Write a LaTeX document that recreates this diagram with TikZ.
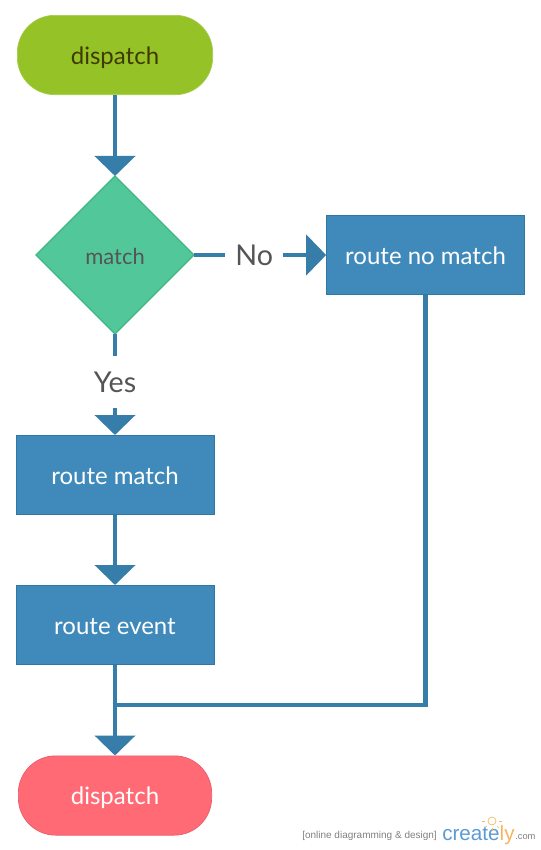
\documentclass[tikz,border=0pt]{standalone}
\usepackage{fontspec}
\setmainfont{Lato}
\newfontfamily\logofont{Liberation Sans}
\usetikzlibrary{arrows.meta,shapes.geometric}
\definecolor{linecol}{HTML}{367EA9}
\definecolor{boxcol}{HTML}{3F8ABB}
\definecolor{boxedge}{HTML}{2F78A6}
\definecolor{startcol}{HTML}{95C227}
\definecolor{startedge}{HTML}{A5CC4A}
\definecolor{starttext}{HTML}{3F3A00}
\definecolor{matchcol}{HTML}{52C89A}
\definecolor{matchedge}{HTML}{3FB585}
\definecolor{endcol}{HTML}{FF6A75}
\definecolor{endedge}{HTML}{E95B68}
\definecolor{labelcol}{HTML}{555555}
\definecolor{logoblue}{HTML}{5B9BD5}
\definecolor{logoorange}{HTML}{F5B55F}
\tikzset{
    flowline/.style={line width=3.4pt, draw=linecol},
    flowarrow/.style={flowline, -{Triangle[width=30pt, length=15pt]}},
    routebox/.style={rectangle, draw=boxedge, fill=boxcol, text=white, line width=0.5pt, minimum width=148.5pt, minimum height=59.5pt, inner sep=0pt, text height=17.5pt, text depth=3pt, font=\fontsize{18}{20}\selectfont},
    capsule/.style={rectangle, rounded corners=28pt, line width=0.5pt, minimum height=59.5pt, inner sep=0pt, text height=16.5pt, text depth=3pt, font=\fontsize{18}{20}\selectfont},
    choice/.style={diamond, aspect=1, draw=matchedge, fill=matchcol, text=labelcol, line width=1pt, outer sep=0pt, minimum width=118.5pt, minimum height=118.5pt, inner sep=0pt, text height=16.5pt, text depth=3pt, font=\fontsize{16.5}{18}\selectfont},
    branchlabel/.style={fill=white, text=labelcol, inner sep=0pt, font=\fontsize{21.5}{24}\selectfont},
    logotext/.style={inner sep=0pt, anchor=base west}
}
\begin{document}
\begin{tikzpicture}[x=0.75pt, y=-0.75pt]
    \useasboundingbox (0, 0) rectangle (540, 850);
    \node[capsule, minimum width=146.5pt, draw=startedge, fill=startcol, text=starttext] (dispatchtop) at (115, 55) {dispatch};
    \node[choice] (match) at (115, 255) {match};
    \node[routebox] (routenomatch) at (425.5, 255) {route no match};
    \node[routebox] (routematch) at (115, 475) {route match};
    \node[routebox] (routeevent) at (115, 625) {route event};
    \node[capsule, minimum width=145pt, draw=endedge, fill=endcol, text=white] (dispatchend) at (115, 795.5) {dispatch};
    \coordinate (join) at (115, 705);
    \draw[flowarrow] (dispatchtop) -- (match);
    \draw[flowarrow] (match) -- node[branchlabel, pos=0.455, minimum width=43pt, minimum height=24pt] (nolabel) {No} (routenomatch);
    \draw[flowarrow] (match) -- node[branchlabel, pos=0.475, minimum width=40pt, minimum height=39pt] (yeslabel) {Yes} (routematch);
    \draw[flowarrow] (routematch) -- (routeevent);
    \draw[flowarrow] (routeevent) -- (dispatchend);
    \draw[flowline] (routenomatch) |- (join);
    \node[logotext, text=gray, font=\logofont\fontsize{7.5}{9}\selectfont] (logotag) at (302, 838) {[online diagramming \& design]};
    \node[logotext, font=\logofont\fontsize{15.5}{18}\selectfont] (logoname) at (442, 840) {\textcolor{logoblue}{create}\textcolor{logoorange}{ly}};
    \node[logotext, text=gray, font=\logofont\fontsize{7}{9}\selectfont] (logocom) at (515, 839) {.com};
    \draw[logoorange, line width=0.5pt] (492, 821) circle (4);
    \foreach \ang in {0, 45, 90, 135, 180} {
        \draw[logoorange, line width=0.5pt] (492, 821) ++(\ang:7) -- ++(\ang:3);
    }
\end{tikzpicture}
\end{document}
